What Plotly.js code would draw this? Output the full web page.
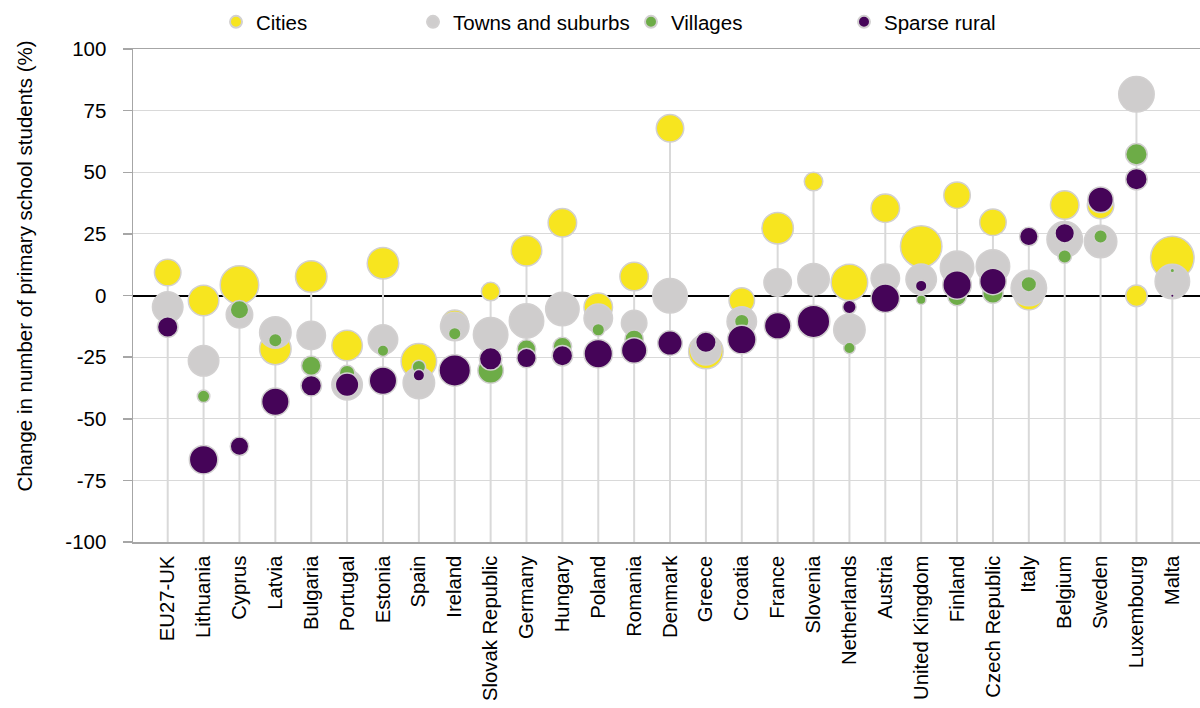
<!DOCTYPE html>
<html>
<head>
<meta charset="utf-8">
<script src="https://cdn.plot.ly/plotly-3.0.1.min.js"></script>
<style>html,body{margin:0;padding:0;background:#fff;}#chart{width:1200px;height:708px;}</style>
</head>
<body>
<div id="chart"></div>
<script>
const categories = ['EU27-UK','Lithuania','Cyprus','Latvia','Bulgaria','Portugal','Estonia','Spain','Ireland','Slovak Republic','Germany','Hungary','Poland','Romania','Denmark','Greece','Croatia','France','Slovenia','Netherlands','Austria','United Kingdom','Finland','Czech Republic','Italy','Belgium','Sweden','Luxembourg','Malta'];

const cities   = [9.3, -2.0, 4.3, -21.7, 7.7, -20.3, 13.1, -26.7, -11.3, 1.6, 18.2, 29.5, -4.8, 7.7, 67.8, -22.7, -2.0, 27.3, 46.2, 5.3, 35.4, 19.9, 40.7, 29.7, -0.1, 36.7, 36.5, -0.1, 15.2];
const towns    = [-4.7, -26.5, -7.8, -15.0, -16.2, -36.2, -17.9, -35.5, -12.6, -15.9, -10.3, -5.5, -9.2, -11.2, -0.1, -22.0, -10.5, 5.3, 6.6, -13.9, 7.0, 6.6, 11.3, 11.8, 3.0, 22.8, 21.9, 81.6, 5.7];
const villages = [-12.0, -40.9, -5.8, -18.2, -28.5, -31.4, -22.4, -29.0, -15.5, -30.4, -21.7, -20.7, -13.9, -17.7, -19.3, -19.5, -10.5, -12.3, -10.5, -21.3, -1.1, -1.7, -0.4, 1.0, 4.6, 15.8, 23.9, 57.3, 10.1];
const sparse   = [-12.8, -66.6, -61.2, -43.1, -36.6, -36.2, -34.6, -32.4, -30.4, -25.7, -25.4, -24.4, -23.6, -22.3, -19.3, -19.0, -17.9, -12.3, -10.5, -4.7, -1.1, 3.9, 4.3, 5.7, 23.9, 25.3, 38.8, 47.2, -0.1];

// bubble sizes (relative weight of each group, as drawn)
const citiesSize   = [28, 32, 40, 33, 33, 32, 33, 37, 28, 20, 32, 30, 30, 30, 29, 36, 27, 33, 20, 38, 30, 43, 28, 28, 30, 30, 28, 23, 45];
const townsSize    = [32, 32, 28, 33, 30, 32, 31, 33, 30, 36, 36, 35, 30, 27, 36, 32, 31, 29, 33, 33, 30, 32, 35, 35, 37, 37, 34, 37, 36];
const villagesSize = [16, 14, 20, 15, 21, 17, 13, 15, 14, 27, 20, 20, 14, 20, 16, 14, 16, 14, 14, 13, 14, 11, 20, 22, 17, 15, 15, 23, 6];
const sparseSize   = [22, 30, 20, 29, 22, 25, 29, 13, 33, 24, 21, 22, 30, 27, 26, 22, 30, 28, 34, 15, 30, 13, 30, 28, 20, 21, 27, 23, 5];

const seriesNames = ['Cities', 'Towns and suburbs', 'Villages', 'Sparse rural'];
const yTickVals = [-100, -75, -50, -25, 0, 25, 50, 75, 100];
const yTickText = ['-100', '-75', '-50', '-25', '0', '25', '50', '75', '100'];
const yMin = -100, yMax = 100;

const FONT = 'Liberation Sans, Arial, sans-serif';
const colors = ['#F7E51F', '#CFCDCD', '#6DAC47', '#450458'];
const borderColor = '#D2D0D0';

// stems from each country's highest value down to the bottom of the axis
const stemX = [], stemY = [];
categories.forEach((c, i) => {
  const top = Math.max(cities[i], towns[i], villages[i], sparse[i]);
  stemX.push(c, c, null);
  stemY.push(top, yMin, null);
});

const traces = [{
  type: 'scatter', mode: 'lines', x: stemX, y: stemY,
  line: {color: '#D9D9D9', width: 2}, showlegend: false, hoverinfo: 'skip'
}];

const vals = [cities, towns, villages, sparse];
const sizes = [citiesSize, townsSize, villagesSize, sparseSize];
const legendIds = ['legend', 'legend2', 'legend3', 'legend4'];
vals.forEach((v, k) => {
  traces.push({
    type: 'scatter', mode: 'markers', name: seriesNames[k],
    x: categories, y: v, legend: legendIds[k],
    marker: {color: colors[k], size: sizes[k].map(s => s - 1.5), sizemode: 'diameter',
             line: {color: borderColor, width: 1.5}, opacity: 1}
  });
});

const L = 133, R = 0, T = 49, B = 166;
const plotW = 1200 - L - R, plotH = 708 - T - B;
const catStep = 35.88;
const firstCenter = 167.7;
const r0 = -(firstCenter - L) / catStep;
const r1 = r0 + plotW / catStep;

const legendTextStarts = [256, 453, 671, 884];
const legendY = (plotH + T - 22) / plotH;
const mkLegend = (px) => ({
  orientation: 'h', x: (px - 40 - L) / plotW, xanchor: 'left', y: legendY, yanchor: 'middle',
  font: {family: FONT, size: 20.5, color: '#000'}, bgcolor: 'rgba(0,0,0,0)',
  itemsizing: 'constant', borderwidth: 0
});

const layout = {
  width: 1200, height: 708,
  margin: {l: L, r: R, t: T, b: B, pad: 0},
  paper_bgcolor: '#fff', plot_bgcolor: '#fff',
  font: {family: FONT, size: 20.5, color: '#000'},
  showlegend: true,
  legend: mkLegend(legendTextStarts[0]),
  legend2: mkLegend(legendTextStarts[1]),
  legend3: mkLegend(legendTextStarts[2]),
  legend4: mkLegend(legendTextStarts[3]),
  xaxis: {
    type: 'category', range: [r0, r1], showgrid: false, zeroline: false,
    showline: true, linecolor: '#A6A6A6', linewidth: 1.5, mirror: true,
    ticks: '', tickangle: -90, ticklabelstandoff: 4,
    tickfont: {family: FONT, size: 20.3, color: '#000'}
  },
  yaxis: {
    range: [yMin, yMax], tickmode: 'array', tickvals: yTickVals, ticktext: yTickText,
    showgrid: true, gridcolor: '#D9D9D9', gridwidth: 1.2,
    zeroline: true, zerolinecolor: '#000', zerolinewidth: 2,
    showline: true, linecolor: '#A6A6A6', linewidth: 1.5,
    ticks: 'outside', ticklen: 9, tickcolor: '#A6A6A6', tickwidth: 1.5,
    ticklabelstandoff: 12,
    tickfont: {family: FONT, size: 20.5, color: '#000'}
  },
  annotations: [{
    text: 'Change in number of primary school students (%)',
    xref: 'paper', yref: 'paper', x: (25 - L) / plotW, y: (plotH + T - 266.6) / plotH,
    xanchor: 'center', yanchor: 'middle', textangle: -90, showarrow: false,
    font: {family: FONT, size: 20.5, color: '#000'}
  }]
};

Plotly.newPlot('chart', traces, layout, {displayModeBar: false, staticPlot: true});
</script>
</body>
</html>
